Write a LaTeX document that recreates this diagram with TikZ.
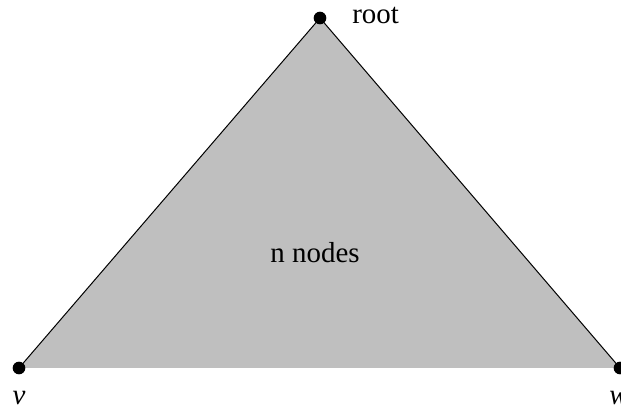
\documentclass[tikz,border=0pt]{standalone}
\usepackage{fontspec}
\setmainfont{Liberation Serif}
\begin{document}
\begin{tikzpicture}[x=0.75pt,y=-0.75pt,
  vtx/.style={circle,fill=black,inner sep=0pt,minimum size=9.5pt},
  lbl/.style={inner sep=0pt,font=\fontsize{21.7}{26}\selectfont},
  edge/.style={line width=0.75pt,black}]
\useasboundingbox (0,0) rectangle (621,409);
\coordinate (r) at (320,18);
\coordinate (a) at (19,368);
\coordinate (b) at (620,368);
\fill[black!25] (r) -- (a) -- (b) -- cycle;
\draw[edge] (a) -- (r) -- (b);
\node[vtx] (rd) at (r) {};
\node[vtx] (ad) at (a) {};
\node[vtx] (bd) at (b) {};
\node[lbl,anchor=base west] (rootlbl) at (352,24) {root};
\node[lbl,anchor=base] (nn) at (315,263) {n nodes};
\node[lbl,anchor=base] (vl) at (19,405) {\itshape v};
\node[lbl,anchor=base west] (wl) at (609,405) {\itshape w};
\end{tikzpicture}
\end{document}
